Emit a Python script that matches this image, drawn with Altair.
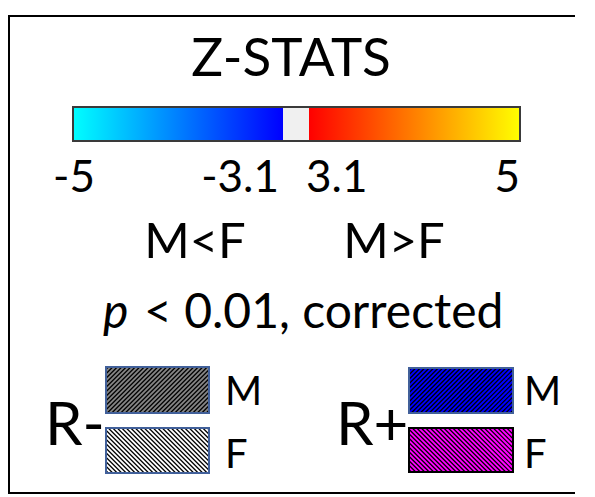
import altair as alt
import numpy as np
import pandas as pd

# ---------------- data ----------------
title_text = ["Z-STATS"]
tick_values = [-5, -3.1, 3.1, 5]
tick_labels = ["-5", "-3.1", "3.1", "5"]
segment_start = [-5, -3.1, 3.1]
segment_end = [-3.1, 3.1, 5]
direction_labels = ["M<F", "M>F"]
p_italic = ["p"]
p_rest = ["< 0.01, corrected"]
group_labels = ["R-", "R+"]
sex_labels = ["M", "F"]

# ---------------- style ----------------
FONT = "Lato"
W, H = 579, 489
neg_colors = ["#00ffff", "#0000ff"]
pos_colors = ["#ff0000", "#ffff00"]
gap_color = "#f0f0f0"

zscale = alt.Scale(domain=tick_values, range=[65, 275, 301, 512], nice=False, zero=False)
px_x = alt.Scale(domain=[0, W], range=[0, W], nice=False, zero=False)
px_y = alt.Scale(domain=[0, H], range=[0, H], nice=False, zero=False)


def lin_grad(c0, c1):
    return {"gradient": "linear", "x1": 0, "y1": 0, "x2": 1, "y2": 0,
            "stops": [{"offset": 0, "color": c0}, {"offset": 1, "color": c1}]}


def hatch_lines(x0, x1, y0, y1, up, period=4.5):
    rows = []
    if up:  # "/" lines : x + y = c
        for c in np.arange(x0 + y0 + period / 2, x1 + y1, period):
            xa, xb = max(x0, c - y1), min(x1, c - y0)
            if xb > xa:
                rows.append((xa, c - xa, xb, c - xb))
    else:  # "\" lines : x - y = c
        for c in np.arange(x0 - y1 + period / 2, x1 - y0, period):
            xa, xb = max(x0, c + y0), min(x1, c + y1)
            if xb > xa:
                rows.append((xa, xa - c, xb, xb - c))
    return pd.DataFrame(rows, columns=["hx", "hy", "hx2", "hy2"])


def one(col, val):
    return pd.DataFrame({col: val})


layers = []

# frame (left, top, bottom edges; the right edge lies beyond the picture)
layers.append(
    alt.Chart(one("t", title_text)).mark_rule(color="#000000", strokeWidth=2)
    .encode(x=alt.value(1), y=alt.value(8), y2=alt.value(485))
)
for yy in [8, 485]:
    layers.append(
        alt.Chart(one("t", title_text)).mark_rule(color="#000000", strokeWidth=2)
        .encode(x=alt.value(0), x2=alt.value(W - 12), y=alt.value(yy))
    )

# title
layers.append(
    alt.Chart(one("t", title_text)).mark_text(font=FONT, fontSize=53, align="center", baseline="alphabetic", color="#000000")
    .encode(text="t:N", x=alt.value(283), y=alt.value(68))
)

# colour bar
seg = pd.DataFrame({"z0": segment_start, "z1": segment_end})
fills = [lin_grad(*neg_colors), gap_color, lin_grad(*pos_colors)]
for i, f in enumerate(fills):
    layers.append(
        alt.Chart(seg.iloc[[i]]).mark_rect(fill=f)
        .encode(x=alt.X("z0:Q", scale=zscale, axis=None), x2="z1:Q", y=alt.value(99), y2=alt.value(133))
    )
outline = pd.DataFrame({"z0": [tick_values[0]], "z1": [tick_values[-1]]})
layers.append(
    alt.Chart(outline).mark_rect(fill="transparent", stroke="#3a3a3a", strokeWidth=2)
    .encode(x=alt.X("z0:Q", scale=zscale, axis=None), x2="z1:Q", y=alt.value(99), y2=alt.value(133))
)

# tick labels
ticks = pd.DataFrame({"z": tick_values, "lab": tick_labels})
tick_style = [("center", 1), ("right", -4), ("left", -3), ("right", 0)]
for i, (al, dx) in enumerate(tick_style):
    layers.append(
        alt.Chart(ticks.iloc[[i]]).mark_text(font=FONT, fontSize=44, align=al, dx=dx, baseline="alphabetic", color="#000000")
        .encode(x=alt.X("z:Q", scale=zscale, axis=None), text="lab:N", y=alt.value(184))
    )

# direction labels
for lab, xp in zip(direction_labels, [187, 386]):
    layers.append(
        alt.Chart(one("t", [lab])).mark_text(font=FONT, fontSize=49, align="center", baseline="alphabetic", color="#000000")
        .encode(text="t:N", x=alt.value(xp), y=alt.value(250))
    )

# p-value line
layers.append(
    alt.Chart(one("t", p_italic)).mark_text(font=FONT, fontSize=48, fontStyle="italic", align="left", baseline="alphabetic", color="#000000")
    .encode(text="t:N", x=alt.value(95), y=alt.value(320))
)
layers.append(
    alt.Chart(one("t", p_rest)).mark_text(font=FONT, fontSize=48, align="left", baseline="alphabetic", color="#000000")
    .encode(text="t:N", x=alt.value(136), y=alt.value(320))
)

# group labels
for lab, xp in zip(group_labels, [37, 328]):
    layers.append(
        alt.Chart(one("t", [lab])).mark_text(font=FONT, fontSize=60, align="left", baseline="alphabetic", color="#000000")
        .encode(text="t:N", x=alt.value(xp), y=alt.value(437))
    )

# hatched swatches
boxes = [
    # x0, x1, y0, y1, bg, up, stroke
    (98, 201, 359, 405, "#858585", True, "#41609a"),
    (98, 201, 420, 465, "#ffffff", False, "#41609a"),
    (401, 505, 360, 405, "#0000ff", True, "#41609a"),
    (401, 505, 420, 464, "#ff00ff", False, "#000000"),
]
for x0, x1, y0, y1, bg, up, st in boxes:
    layers.append(
        alt.Chart(one("t", ["box"])).mark_rect(fill=bg)
        .encode(x=alt.value(x0), x2=alt.value(x1), y=alt.value(y0), y2=alt.value(y1))
    )
    layers.append(
        alt.Chart(hatch_lines(x0, x1, y0, y1, up)).mark_rule(color="#000000", strokeWidth=1.2)
        .encode(x=alt.X("hx:Q", scale=px_x, axis=None), y=alt.Y("hy:Q", scale=px_y, axis=None),
                x2="hx2:Q", y2="hy2:Q")
    )
    layers.append(
        alt.Chart(one("t", ["box"])).mark_rect(fill="transparent", stroke=st, strokeWidth=2)
        .encode(x=alt.value(x0), x2=alt.value(x1), y=alt.value(y0), y2=alt.value(y1))
    )

# sex labels
for xp in [217, 516]:
    for lab, yp in zip(sex_labels, [397, 460]):
        layers.append(
            alt.Chart(one("t", [lab])).mark_text(font=FONT, fontSize=40, align="left", baseline="alphabetic", color="#000000")
            .encode(text="t:N", x=alt.value(xp), y=alt.value(yp))
        )

chart = alt.layer(*layers).resolve_scale(x="independent", y="independent").properties(
    width=W, height=H, autosize=alt.AutoSizeParams(type="none"), padding=0, background="#ffffff"
).configure_view(strokeWidth=0)

chart.save("out.html", embed_options={"renderer": "svg", "actions": False})
